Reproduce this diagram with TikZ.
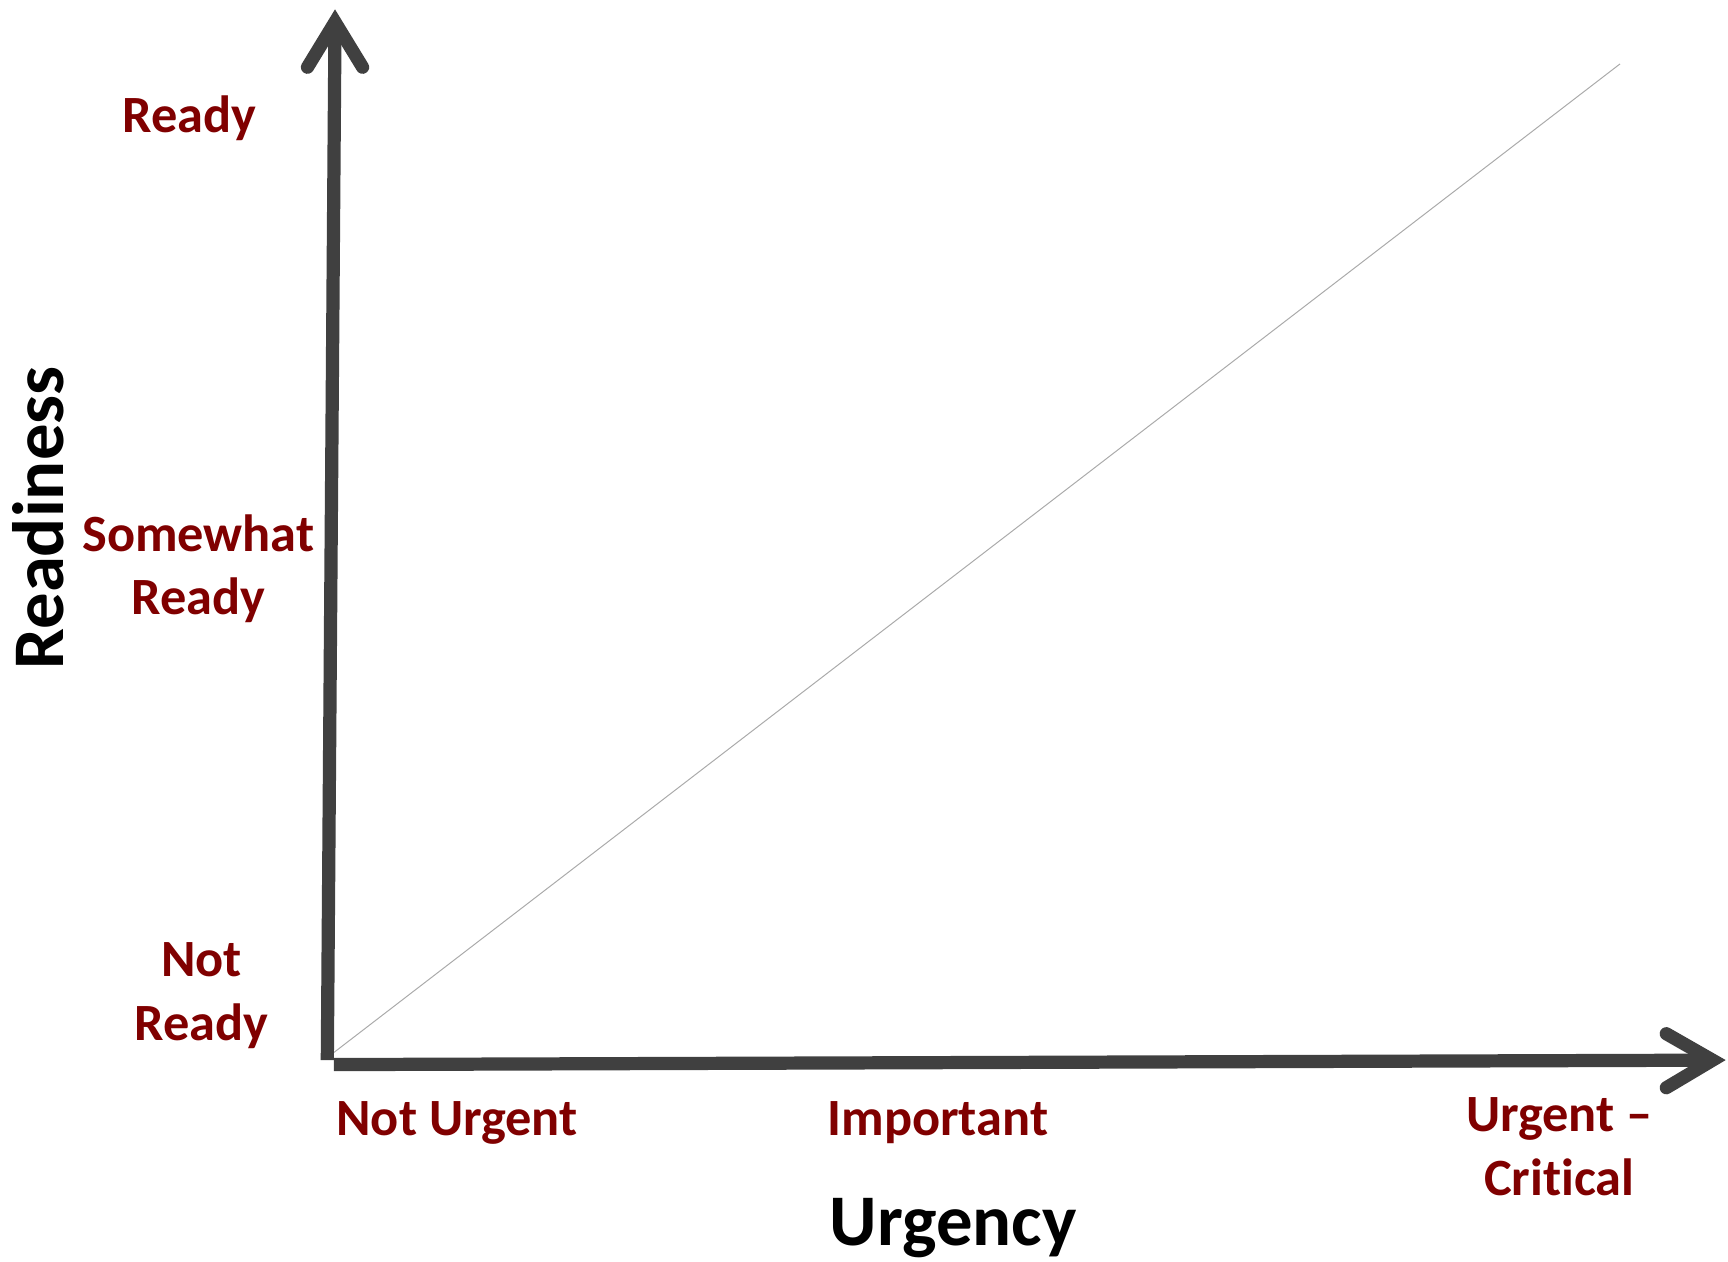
\documentclass[tikz,border=0pt]{standalone}
\usepackage{fontspec}
\setmainfont{Carlito}[Ligatures={NoCommon}]
\definecolor{axisgray}{RGB}{64,64,64}
\definecolor{labelred}{RGB}{128,0,0}
\definecolor{diaggray}{RGB}{170,170,170}
\begin{document}
\begin{tikzpicture}[x=1pt,y=-1pt,
  axis/.style={draw=axisgray,line width=12pt,line cap=butt},
  chevron/.style={draw=axisgray,line width=12pt,line cap=round,line join=miter},
  lab/.style={text=labelred,font=\fontsize{47.5}{58}\selectfont\bfseries,inner sep=0pt,align=center},
  title/.style={text=black,font=\fontsize{66}{80}\selectfont\bfseries,inner sep=0pt}]
\useasboundingbox (0,0) rectangle (1568,1145);
% axes
\coordinate (vbot) at (297,962);
\coordinate (vtip) at (304,20);
\coordinate (hleft) at (303,966);
\coordinate (htip) at (1554,962);
\coordinate (dstart) at (303,955);
\coordinate (dend) at (1470,58);
\draw[diaggray,line width=0.9pt] (dstart) -- (dend);
\draw[axis] (vbot) -- (vtip);
\draw[chevron] (279,61) -- (vtip) -- (329,61);
\draw[axis] (hleft) -- (htip);
\draw[chevron] (1512,938) -- (htip) -- (1512,987);
% labels
\node[lab,anchor=base] (r1) at (172,120) {Ready};
\node[lab,anchor=base] (r2) at (180,558) {Somewhat\\Ready};
\node[lab,anchor=base] (r3) at (183,944) {Not\\Ready};
\node[lab,anchor=base west] (u1) at (305,1030) {Not Urgent};
\node[lab,anchor=base] (u2) at (851,1030) {Important};
\node[lab,anchor=base] (u3) at (1415,1085) {Urgent –\\Critical};
\node[title,anchor=base] (xt) at (865,1130) {Urgency};
\node[title,anchor=center,rotate=90] (yt) at (35,470) {Readiness};
\end{tikzpicture}
\end{document}
